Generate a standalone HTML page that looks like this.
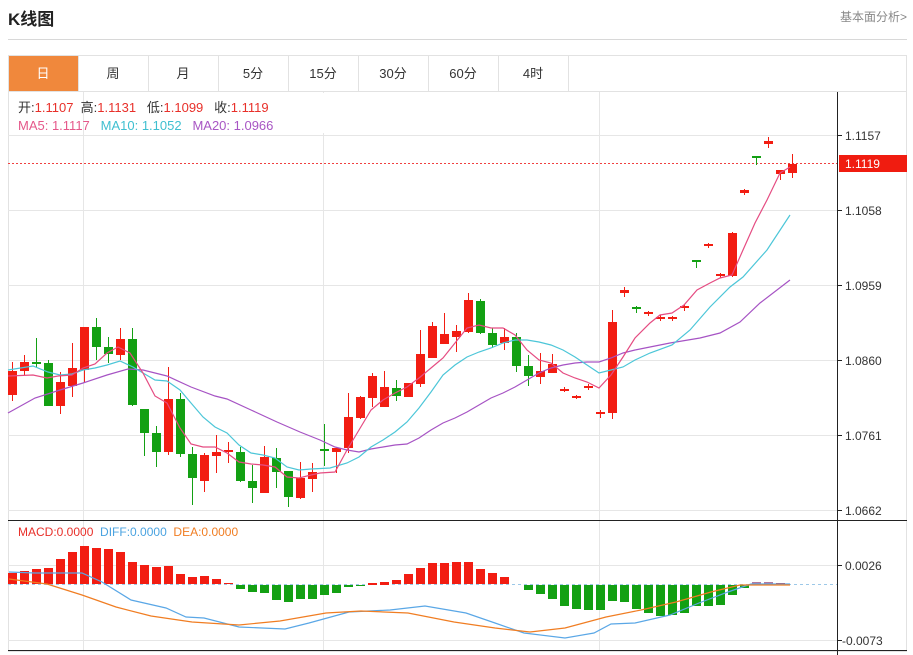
<!DOCTYPE html>
<html><head><meta charset="utf-8"><style>
html,body{margin:0;padding:0;background:#fff;width:913px;height:655px;overflow:hidden}
svg{display:block;font-family:"Liberation Sans","Noto Sans CJK SC",sans-serif}
</style></head><body>
<svg width="913" height="655" viewBox="0 0 913 655" xmlns="http://www.w3.org/2000/svg">
<text x="8" y="25" font-size="17" font-weight="bold" fill="#222">K线图</text>
<text x="907" y="21" font-size="12" fill="#888" text-anchor="end">基本面分析&gt;</text>
<line x1="8" y1="39.5" x2="907" y2="39.5" stroke="#d8d8d8"/>
<rect x="8.5" y="55.5" width="898" height="596" fill="none" stroke="#e2e2e2"/>
<line x1="8" y1="91.5" x2="907" y2="91.5" stroke="#e2e2e2"/>
<rect x="9" y="56" width="69" height="35" fill="#f0883c"/>
<g stroke="#e2e2e2"><line x1="78.5" y1="56" x2="78.5" y2="91"/><line x1="148.5" y1="56" x2="148.5" y2="91"/><line x1="218.5" y1="56" x2="218.5" y2="91"/><line x1="288.5" y1="56" x2="288.5" y2="91"/><line x1="358.5" y1="56" x2="358.5" y2="91"/><line x1="428.5" y1="56" x2="428.5" y2="91"/><line x1="498.5" y1="56" x2="498.5" y2="91"/><line x1="568.5" y1="56" x2="568.5" y2="91"/></g>
<g font-size="13" fill="#333" text-anchor="middle"><text x="43" y="78" fill="#fff">日</text><text x="113" y="78">周</text><text x="183" y="78">月</text><text x="253" y="78">5分</text><text x="323" y="78">15分</text><text x="393" y="78">30分</text><text x="463" y="78">60分</text><text x="533" y="78">4时</text></g>
<g stroke="#e6e6e6"><line x1="83.5" y1="92" x2="83.5" y2="651"/><line x1="323.5" y1="92" x2="323.5" y2="651"/><line x1="599.5" y1="92" x2="599.5" y2="651"/>
<line x1="8" y1="135.5" x2="837" y2="135.5"/><line x1="8" y1="210.5" x2="837" y2="210.5"/><line x1="8" y1="285.5" x2="837" y2="285.5"/><line x1="8" y1="360.5" x2="837" y2="360.5"/><line x1="8" y1="435.5" x2="837" y2="435.5"/><line x1="8" y1="510.5" x2="837" y2="510.5"/>
<line x1="8" y1="565.5" x2="837" y2="565.5"/><line x1="8" y1="640.5" x2="837" y2="640.5"/></g>
<rect x="9" y="93" width="320" height="40" fill="#fff"/>
<line x1="83.5" y1="92" x2="83.5" y2="133" stroke="#e6e6e6"/>
<text x="18" y="112" font-size="13" fill="#333" xml:space="preserve">开:<tspan fill="#e8302a">1.1107</tspan>  高:<tspan fill="#e8302a">1.1131</tspan>   低:<tspan fill="#e8302a">1.1099</tspan>   收:<tspan fill="#e8302a">1.1119</tspan></text>
<text x="18" y="130" font-size="13" xml:space="preserve"><tspan fill="#e5588a">MA5: 1.1117</tspan>   <tspan fill="#3fbfd0">MA10: 1.1052</tspan>   <tspan fill="#a856c4">MA20: 1.0966</tspan></text>
<line x1="837.5" y1="92" x2="837.5" y2="655" stroke="#222"/>
<line x1="8" y1="520.5" x2="907" y2="520.5" stroke="#222"/>
<line x1="8" y1="650.5" x2="907" y2="650.5" stroke="#222"/>
<g stroke="#222"><line x1="837" y1="135.5" x2="842" y2="135.5"/><line x1="837" y1="210.5" x2="842" y2="210.5"/><line x1="837" y1="285.5" x2="842" y2="285.5"/><line x1="837" y1="360.5" x2="842" y2="360.5"/><line x1="837" y1="435.5" x2="842" y2="435.5"/><line x1="837" y1="510.5" x2="842" y2="510.5"/><line x1="837" y1="565.5" x2="842" y2="565.5"/><line x1="837" y1="640.5" x2="842" y2="640.5"/></g>
<g font-size="12" fill="#333"><text x="845" y="140">1.1157</text><text x="845" y="215">1.1058</text><text x="845" y="290">1.0959</text><text x="845" y="365">1.0860</text><text x="845" y="440">1.0761</text><text x="845" y="515">1.0662</text><text x="845" y="570">0.0026</text><text x="842" y="645">-0.0073</text></g>
<line x1="8" y1="163.5" x2="837" y2="163.5" stroke="#f04040" stroke-dasharray="2,2"/>
<rect x="839" y="155" width="68" height="17" fill="#f01c10"/>
<text x="845" y="168" font-size="12" fill="#fff">1.1119</text>
<g fill="#f21d12" stroke="#f21d12">
<line x1="12.5" y1="362" x2="12.5" y2="401"/><rect x="8" y="371" width="9" height="24" stroke="none"/>
<line x1="24.5" y1="355" x2="24.5" y2="375"/><rect x="20" y="362" width="9" height="9" stroke="none"/>
<line x1="60.5" y1="372" x2="60.5" y2="414"/><rect x="56" y="382" width="9" height="24" stroke="none"/>
<line x1="72.5" y1="343" x2="72.5" y2="397"/><rect x="68" y="368" width="9" height="18" stroke="none"/>
<line x1="84.5" y1="327" x2="84.5" y2="383"/><rect x="80" y="327" width="9" height="43" stroke="none"/>
<line x1="120.5" y1="328" x2="120.5" y2="360"/><rect x="116" y="339" width="9" height="16" stroke="none"/>
<line x1="168.5" y1="367" x2="168.5" y2="455"/><rect x="164" y="399" width="9" height="53" stroke="none"/>
<line x1="204.5" y1="453" x2="204.5" y2="492"/><rect x="200" y="455" width="9" height="26" stroke="none"/>
<line x1="216.5" y1="435" x2="216.5" y2="473"/><rect x="212" y="452" width="9" height="4" stroke="none"/>
<line x1="228.5" y1="442" x2="228.5" y2="463"/><rect x="224" y="450" width="9" height="2" stroke="none"/>
<line x1="264.5" y1="446" x2="264.5" y2="493"/><rect x="260" y="457" width="9" height="36" stroke="none"/>
<line x1="300.5" y1="462" x2="300.5" y2="499"/><rect x="296" y="478" width="9" height="20" stroke="none"/>
<line x1="312.5" y1="463" x2="312.5" y2="492"/><rect x="308" y="472" width="9" height="7" stroke="none"/>
<line x1="336.5" y1="447" x2="336.5" y2="473"/><rect x="332" y="448" width="9" height="4" stroke="none"/>
<line x1="348.5" y1="393" x2="348.5" y2="453"/><rect x="344" y="417" width="9" height="31" stroke="none"/>
<line x1="360.5" y1="396" x2="360.5" y2="419"/><rect x="356" y="397" width="9" height="21" stroke="none"/>
<line x1="372.5" y1="373" x2="372.5" y2="407"/><rect x="368" y="376" width="9" height="22" stroke="none"/>
<line x1="384.5" y1="371" x2="384.5" y2="407"/><rect x="380" y="387" width="9" height="20" stroke="none"/>
<rect x="404" y="383" width="9" height="14" stroke="none"/>
<line x1="420.5" y1="330" x2="420.5" y2="387"/><rect x="416" y="354" width="9" height="30" stroke="none"/>
<line x1="432.5" y1="322" x2="432.5" y2="358"/><rect x="428" y="326" width="9" height="32" stroke="none"/>
<line x1="444.5" y1="313" x2="444.5" y2="344"/><rect x="440" y="334" width="9" height="10" stroke="none"/>
<line x1="456.5" y1="325" x2="456.5" y2="352"/><rect x="452" y="331" width="9" height="6" stroke="none"/>
<line x1="468.5" y1="293" x2="468.5" y2="333"/><rect x="464" y="300" width="9" height="32" stroke="none"/>
<line x1="504.5" y1="328" x2="504.5" y2="350"/><rect x="500" y="337" width="9" height="6" stroke="none"/>
<line x1="540.5" y1="353" x2="540.5" y2="384"/><rect x="536" y="371" width="9" height="6" stroke="none"/>
<line x1="552.5" y1="354" x2="552.5" y2="373"/><rect x="548" y="364" width="9" height="9" stroke="none"/>
<line x1="564.5" y1="387" x2="564.5" y2="392"/><rect x="560" y="389" width="9" height="2" stroke="none"/>
<line x1="576.5" y1="395" x2="576.5" y2="399"/><rect x="572" y="396" width="9" height="2" stroke="none"/>
<line x1="588.5" y1="384" x2="588.5" y2="390"/><rect x="584" y="386" width="9" height="2" stroke="none"/>
<line x1="600.5" y1="410" x2="600.5" y2="418"/><rect x="596" y="412" width="9" height="2" stroke="none"/>
<line x1="612.5" y1="310" x2="612.5" y2="419"/><rect x="608" y="322" width="9" height="91" stroke="none"/>
<line x1="624.5" y1="287" x2="624.5" y2="297"/><rect x="620" y="290" width="9" height="3" stroke="none"/>
<line x1="648.5" y1="311" x2="648.5" y2="316"/><rect x="644" y="312" width="9" height="2" stroke="none"/>
<line x1="660.5" y1="315" x2="660.5" y2="321"/><rect x="656" y="317" width="9" height="2" stroke="none"/>
<line x1="672.5" y1="316" x2="672.5" y2="321"/><rect x="668" y="317" width="9" height="2" stroke="none"/>
<line x1="684.5" y1="305" x2="684.5" y2="311"/><rect x="680" y="306" width="9" height="2" stroke="none"/>
<line x1="708.5" y1="243" x2="708.5" y2="248"/><rect x="704" y="244" width="9" height="2" stroke="none"/>
<line x1="720.5" y1="273" x2="720.5" y2="278"/><rect x="716" y="274" width="9" height="2" stroke="none"/>
<line x1="732.5" y1="232" x2="732.5" y2="277"/><rect x="728" y="233" width="9" height="43" stroke="none"/>
<line x1="744.5" y1="189" x2="744.5" y2="195"/><rect x="740" y="190" width="9" height="3" stroke="none"/>
<line x1="768.5" y1="137" x2="768.5" y2="148"/><rect x="764" y="141" width="9" height="3" stroke="none"/>
<line x1="780.5" y1="170" x2="780.5" y2="180"/><rect x="776" y="170" width="9" height="4" stroke="none"/>
<line x1="792.5" y1="154" x2="792.5" y2="178"/><rect x="788" y="164" width="9" height="9" stroke="none"/>
</g>
<g fill="#13a013" stroke="#13a013">
<line x1="36.5" y1="338" x2="36.5" y2="367"/><rect x="32" y="362" width="9" height="2" stroke="none"/>
<line x1="48.5" y1="360" x2="48.5" y2="406"/><rect x="44" y="363" width="9" height="43" stroke="none"/>
<line x1="96.5" y1="318" x2="96.5" y2="360"/><rect x="92" y="327" width="9" height="20" stroke="none"/>
<line x1="108.5" y1="337" x2="108.5" y2="363"/><rect x="104" y="347" width="9" height="7" stroke="none"/>
<line x1="132.5" y1="328" x2="132.5" y2="406"/><rect x="128" y="339" width="9" height="66" stroke="none"/>
<line x1="144.5" y1="409" x2="144.5" y2="456"/><rect x="140" y="409" width="9" height="24" stroke="none"/>
<line x1="156.5" y1="426" x2="156.5" y2="467"/><rect x="152" y="433" width="9" height="19" stroke="none"/>
<line x1="180.5" y1="393" x2="180.5" y2="457"/><rect x="176" y="399" width="9" height="55" stroke="none"/>
<line x1="192.5" y1="447" x2="192.5" y2="505"/><rect x="188" y="454" width="9" height="24" stroke="none"/>
<line x1="240.5" y1="447" x2="240.5" y2="482"/><rect x="236" y="452" width="9" height="29" stroke="none"/>
<line x1="252.5" y1="465" x2="252.5" y2="503"/><rect x="248" y="481" width="9" height="7" stroke="none"/>
<line x1="276.5" y1="448" x2="276.5" y2="488"/><rect x="272" y="458" width="9" height="14" stroke="none"/>
<line x1="288.5" y1="471" x2="288.5" y2="507"/><rect x="284" y="471" width="9" height="26" stroke="none"/>
<line x1="324.5" y1="424" x2="324.5" y2="466"/><rect x="320" y="449" width="9" height="2" stroke="none"/>
<line x1="396.5" y1="380" x2="396.5" y2="401"/><rect x="392" y="388" width="9" height="8" stroke="none"/>
<line x1="480.5" y1="299" x2="480.5" y2="334"/><rect x="476" y="301" width="9" height="32" stroke="none"/>
<line x1="492.5" y1="328" x2="492.5" y2="348"/><rect x="488" y="333" width="9" height="12" stroke="none"/>
<line x1="516.5" y1="333" x2="516.5" y2="372"/><rect x="512" y="337" width="9" height="29" stroke="none"/>
<line x1="528.5" y1="355" x2="528.5" y2="386"/><rect x="524" y="366" width="9" height="10" stroke="none"/>
<line x1="636.5" y1="306" x2="636.5" y2="313"/><rect x="632" y="307" width="9" height="2" stroke="none"/>
<line x1="696.5" y1="260" x2="696.5" y2="268"/><rect x="692" y="260" width="9" height="2" stroke="none"/>
<line x1="756.5" y1="156" x2="756.5" y2="165"/><rect x="752" y="156" width="9" height="2" stroke="none"/>
</g>
<polyline fill="none" stroke="#a653c4" stroke-width="1.2" points="8,413 35,398 60,390 83,383 107,375 128,369 143,370 167,376 191,387 215,396 227,399 251,410 277,422 300,432 320,440 335,447 347,450 359,452 371,449 383,447 395,445 407,444 419,438 431,430 443,423 455,418 467,412 479,405 491,398 503,393 515,387 527,380 539,373 551,368 563,365 575,363 587,362 599,362 611,358 623,353 635,350 650,347 670,343 700,338 720,333 740,322 760,303 790,280"/>
<polyline fill="none" stroke="#4cc6d8" stroke-width="1.2" points="8,370 33,366 48,372 60,375 72,374 83,370 95,368 107,365 120,361 133,367 143,373 155,380 167,381 180,390 191,403 203,417 215,427 227,433 239,445 251,453 263,455 275,458 287,467 299,470 311,469 330,468 347,463 359,457 371,447 383,440 395,432 407,422 419,408 431,392 443,375 455,365 467,357 479,352 491,348 503,343 515,340 527,340 539,342 551,345 563,350 575,357 587,365 599,373 611,370 623,367 635,360 650,353 672,345 690,330 710,307 730,287 743,277 767,250 790,215"/>
<polyline fill="none" stroke="#e54c82" stroke-width="1.2" points="8,376 33,375 47,378 58,376 72,375 83,368 95,364 107,353 118,347 130,353 143,373 155,396 167,403 180,428 191,444 203,447 215,447 227,453 239,462 251,464 263,465 275,467 287,477 299,478 311,475 320,473 335,472 347,450 359,430 371,410 383,400 395,393 407,387 419,378 431,368 443,358 455,343 467,328 479,325 491,328 503,328 515,335 527,350 539,360 551,363 563,373 575,378 587,382 599,388 611,375 623,357 635,338 650,323 660,315 672,313 684,305 697,290 710,283 720,278 732,275 743,250 755,223 767,200 780,173 790,167"/>
<line x1="8" y1="584.5" x2="837" y2="584.5" stroke="#9cc8e8" stroke-dasharray="3,3"/>
<g fill="#f21d12">
<rect x="8" y="573" width="9" height="11"/><rect x="20" y="571" width="9" height="13"/><rect x="32" y="569" width="9" height="15"/><rect x="44" y="568" width="9" height="16"/><rect x="56" y="559" width="9" height="25"/><rect x="68" y="552" width="9" height="32"/><rect x="80" y="546" width="9" height="38"/><rect x="92" y="548" width="9" height="36"/><rect x="104" y="549" width="9" height="35"/><rect x="116" y="552" width="9" height="32"/><rect x="128" y="562" width="9" height="22"/><rect x="140" y="565" width="9" height="19"/><rect x="152" y="567" width="9" height="17"/><rect x="164" y="566" width="9" height="18"/><rect x="176" y="574" width="9" height="10"/><rect x="188" y="577" width="9" height="7"/><rect x="200" y="576" width="9" height="8"/><rect x="212" y="579" width="9" height="5"/><rect x="224" y="583" width="9" height="1"/>
<rect x="368" y="583" width="9" height="2"/><rect x="380" y="582" width="9" height="3"/><rect x="392" y="580" width="9" height="4"/><rect x="404" y="574" width="9" height="10"/><rect x="416" y="568" width="9" height="16"/><rect x="428" y="563" width="9" height="21"/><rect x="440" y="563" width="9" height="21"/><rect x="452" y="562" width="9" height="22"/><rect x="464" y="562" width="9" height="22"/><rect x="476" y="569" width="9" height="15"/><rect x="488" y="573" width="9" height="11"/><rect x="500" y="577" width="9" height="7"/>
<rect x="752" y="582" width="9" height="2" fill="#b07aa0"/><rect x="764" y="582" width="9" height="2" fill="#b07aa0"/><rect x="776" y="583" width="9" height="1"/>
</g>
<g fill="#13a013">
<rect x="236" y="585" width="9" height="4"/><rect x="248" y="585" width="9" height="7"/><rect x="260" y="585" width="9" height="8"/><rect x="272" y="585" width="9" height="15"/><rect x="284" y="585" width="9" height="17"/><rect x="296" y="585" width="9" height="14"/><rect x="308" y="585" width="9" height="14"/><rect x="320" y="585" width="9" height="10"/><rect x="332" y="585" width="9" height="8"/><rect x="344" y="585" width="9" height="2"/><rect x="356" y="585" width="9" height="1"/>
<rect x="524" y="585" width="9" height="5"/><rect x="536" y="585" width="9" height="9"/><rect x="548" y="585" width="9" height="14"/><rect x="560" y="585" width="9" height="21"/><rect x="572" y="585" width="9" height="24"/><rect x="584" y="585" width="9" height="25"/><rect x="596" y="585" width="9" height="25"/><rect x="608" y="585" width="9" height="16"/><rect x="620" y="585" width="9" height="17"/><rect x="632" y="585" width="9" height="24"/><rect x="644" y="585" width="9" height="28"/><rect x="656" y="585" width="9" height="31"/><rect x="668" y="585" width="9" height="30"/><rect x="680" y="585" width="9" height="28"/><rect x="692" y="585" width="9" height="21"/><rect x="704" y="585" width="9" height="21"/><rect x="716" y="585" width="9" height="20"/><rect x="728" y="585" width="9" height="10"/><rect x="740" y="585" width="9" height="3"/>
</g>
<polyline fill="none" stroke="#5aa7e6" stroke-width="1.2" points="9,572 35,573 58,573 82,573 102,582 131,600 166,608 186,617 204,618 239,627 262,628 285,629 309,623 349,612 390,610 425,606 466,613 495,623 524,633 565,638 594,633 611,624 635,623 670,615 699,603 728,592 751,584 790,584"/>
<polyline fill="none" stroke="#f07d22" stroke-width="1.2" points="9,579 47,584 82,595 116,607 151,616 192,622 239,625 280,621 326,613 361,611 408,613 454,622 495,628 530,632 565,628 606,617 641,610 676,602 711,592 740,585 790,585"/>
<text x="18" y="536" font-size="12" xml:space="preserve"><tspan fill="#e8302a">MACD:0.0000</tspan>  <tspan fill="#4aa3e0">DIFF:0.0000</tspan>  <tspan fill="#f07d22">DEA:0.0000</tspan></text>
</svg>
</body></html>
